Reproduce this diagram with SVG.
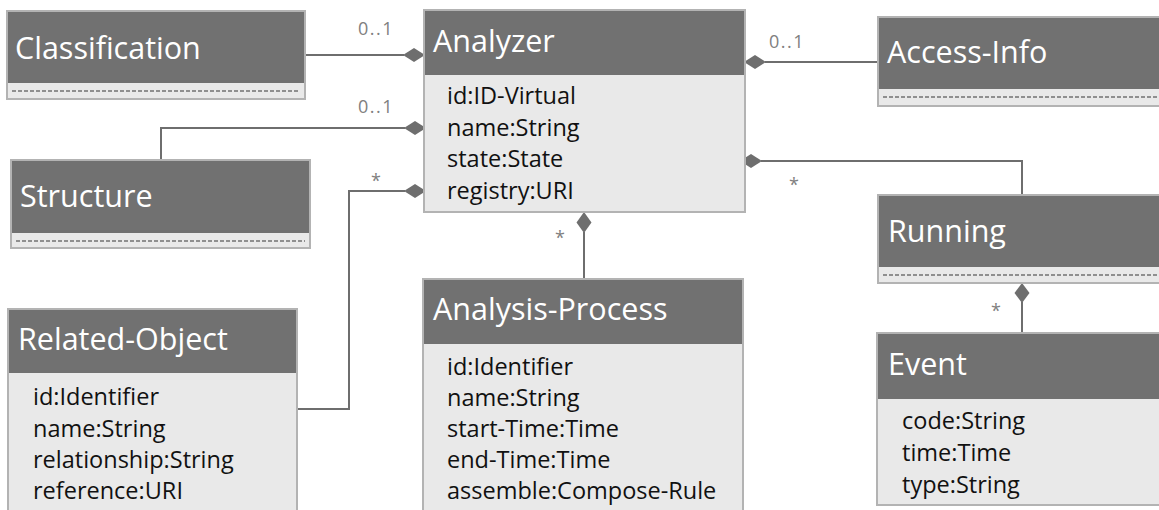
<svg xmlns="http://www.w3.org/2000/svg" width="1159" height="510" viewBox="0 0 1159 510">
  <style>
    .hdr { fill: #717171; }
    .body { fill: #e9e9e9; }
    .frame { fill: none; stroke: #b3b3b3; stroke-width: 2; }
    .dash { stroke: #8f8f8f; stroke-width: 2; stroke-dasharray: 4 2; }
    .title { fill: #ffffff; font-family: "Open Sans", "Noto Sans", sans-serif; font-size: 30.5px; }
    .attr { fill: #111111; font-family: "Open Sans", "Noto Sans", sans-serif; font-size: 23.5px; }
    .lbl { fill: #808080; font-family: "Open Sans", "Noto Sans", sans-serif; font-size: 18px; letter-spacing: 1.5px; }
    .conn { fill: none; stroke: #6e6e6e; stroke-width: 2; }
    .dia { fill: #6e6e6e; }
  </style>
  <rect width="1159" height="510" fill="#ffffff"/>

  <!-- connectors (composition associations) -->
  <g id="connectors">
    <path class="conn" d="M305,55 H404"/>
    <polygon class="dia" points="403,55 414,48 425,55 414,62"/>
    <path class="conn" d="M161,160 V128 H405"/>
    <polygon class="dia" points="404,128 415,121 426,128 415,135"/>
    <path class="conn" d="M297,409 H349 V191 H405"/>
    <polygon class="dia" points="404,191 415,184 426,191 415,198"/>
    <path class="conn" d="M878,62 H765"/>
    <polygon class="dia" points="744,62 755,55 766,62 755,69"/>
    <path class="conn" d="M761,161 H1022 V195"/>
    <polygon class="dia" points="740,161 751,154 762,161 751,168"/>
    <path class="conn" d="M584,232 V279"/>
    <polygon class="dia" points="584,212 591.5,222.5 584,233 576.5,222.5"/>
    <path class="conn" d="M1022,302 V333"/>
    <polygon class="dia" points="1022,283 1029.5,293 1022,303 1014.5,293"/>
    <text class="lbl" x="358" y="35">0..1</text>
    <text class="lbl" x="358" y="113">0..1</text>
    <text class="lbl" x="371" y="187">*</text>
    <text class="lbl" x="769" y="48">0..1</text>
    <text class="lbl" x="789" y="191">*</text>
    <text class="lbl" x="555" y="244">*</text>
    <text class="lbl" x="991" y="317">*</text>
  </g>

  <g id="classification">
    <rect class="body" x="7" y="11" width="298" height="88"/>
    <rect class="hdr" x="7" y="11" width="298" height="72"/>
    <line class="dash" x1="12" y1="91" x2="300" y2="91"/>
    <rect class="frame" x="7" y="11" width="298" height="88"/>
    <text class="title" x="15" y="59">Classification</text>
  </g>

  <g id="analyzer">
    <rect class="body" x="424" y="10" width="321" height="202"/>
    <rect class="hdr" x="424" y="10" width="321" height="65"/>
    <rect class="frame" x="424" y="10" width="321" height="202"/>
    <text class="title" x="433" y="52">Analyzer</text>
    <text class="attr" x="447" y="104">id:ID-Virtual</text>
    <text class="attr" x="447" y="135.5">name:String</text>
    <text class="attr" x="447" y="167">state:State</text>
    <text class="attr" x="447" y="198.5">registry:URI</text>
  </g>

  <g id="access-info">
    <rect class="body" x="878" y="17" width="300" height="89"/>
    <rect class="hdr" x="878" y="17" width="300" height="72"/>
    <line class="dash" x1="883" y1="97" x2="1170" y2="97"/>
    <rect class="frame" x="878" y="17" width="300" height="89"/>
    <text class="title" x="887" y="63">Access-Info</text>
  </g>

  <g id="structure">
    <rect class="body" x="11" y="160" width="299" height="88"/>
    <rect class="hdr" x="11" y="160" width="299" height="73"/>
    <line class="dash" x1="16" y1="241" x2="305" y2="241"/>
    <rect class="frame" x="11" y="160" width="299" height="88"/>
    <text class="title" x="20" y="207">Structure</text>
  </g>

  <g id="running">
    <rect class="body" x="878" y="195" width="300" height="88"/>
    <rect class="hdr" x="878" y="195" width="300" height="72"/>
    <line class="dash" x1="883" y1="275" x2="1170" y2="275"/>
    <rect class="frame" x="878" y="195" width="300" height="88"/>
    <text class="title" x="888" y="242">Running</text>
  </g>

  <g id="related-object">
    <rect class="body" x="8" y="309" width="289" height="210"/>
    <rect class="hdr" x="8" y="309" width="289" height="64"/>
    <rect class="frame" x="8" y="309" width="289" height="210"/>
    <text class="title" x="18" y="350">Related-Object</text>
    <text class="attr" x="33" y="405">id:Identifier</text>
    <text class="attr" x="33" y="437">name:String</text>
    <text class="attr" x="33" y="468">relationship:String</text>
    <text class="attr" x="33" y="499">reference:URI</text>
  </g>

  <g id="analysis-process">
    <rect class="body" x="423" y="279" width="320" height="240"/>
    <rect class="hdr" x="423" y="279" width="320" height="65"/>
    <rect class="frame" x="423" y="279" width="320" height="240"/>
    <text class="title" x="433" y="320">Analysis-Process</text>
    <text class="attr" x="447" y="375">id:Identifier</text>
    <text class="attr" x="447" y="406">name:String</text>
    <text class="attr" x="447" y="437">start-Time:Time</text>
    <text class="attr" x="447" y="468">end-Time:Time</text>
    <text class="attr" x="447" y="499">assemble:Compose-Rule</text>
  </g>

  <g id="event">
    <rect class="body" x="877" y="333" width="300" height="172"/>
    <rect class="hdr" x="877" y="333" width="300" height="66"/>
    <rect class="frame" x="877" y="333" width="300" height="172"/>
    <text class="title" x="888" y="375">Event</text>
    <text class="attr" x="902" y="429">code:String</text>
    <text class="attr" x="902" y="461">time:Time</text>
    <text class="attr" x="902" y="493">type:String</text>
  </g>
</svg>
